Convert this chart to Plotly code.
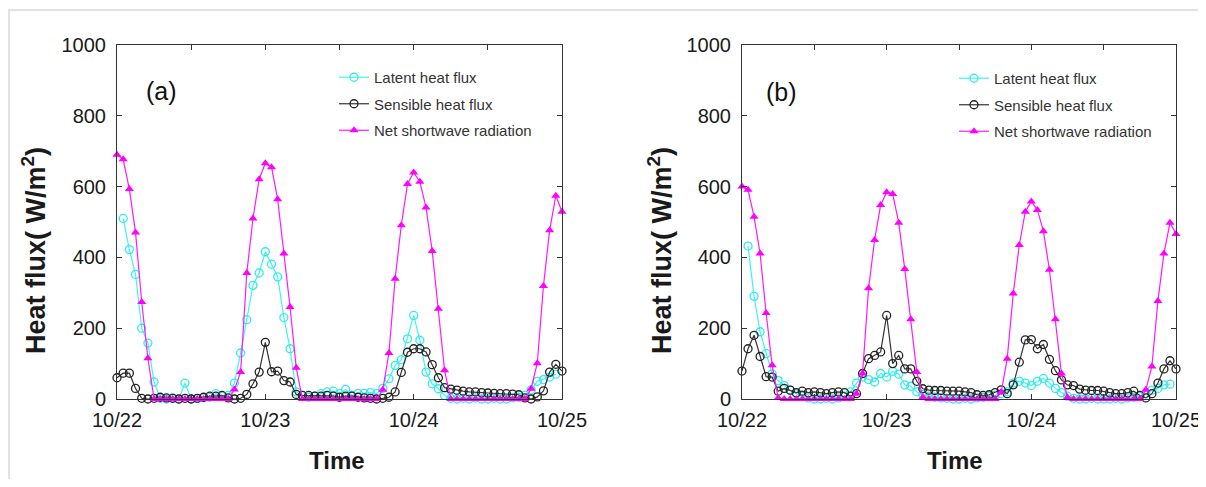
import pandas as pd
import plotly.graph_objects as go

OFF = 8  # page body margin of the html page
W, H = 1206 - OFF, 487 - 2 * OFF  # figure fits the window


def px(x):
    return (x - OFF) / W


def py(y):
    return 1 - (y - OFF) / H


# hourly time stamps 10/22 00:00 .. 10/25 00:00
TIMES = pd.date_range("2015-10-22 00:00", periods=73, freq="h")
TICK_TIMES = pd.date_range("2015-10-22 00:00", periods=7, freq="12h")
TICK_TEXT = ["10/22", "", "10/23", "", "10/24", "", "10/25"]
Y_TICKS = [0, 200, 400, 600, 800, 1000]

# ---------------- panel (a) ----------------
LATENT_A = [None, 510, 422, 352, 200, 158, 48,
            2, 0, 3, 0, 45, 0, 2, 3, 5, 15, 8, 10,
            45, 130, 224, 321, 356, 416, 381, 345, 230, 142, 20, 10,
            5, 8, 15, 20, 22, 15, 27, 10, 16, 16, 18, 15,
            30, 57, 95, 111, 170, 236, 166, 76, 43, 29, 10, 2,
            0, 2, 0, 3, 0, 0, 2, 0, 0, 3, 5, 10,
            26, 50, 55, 62, 70, None]
SENSIBLE_A = [60, 73, 73, 30, 2, 0, 2, 5, 3, 2, 0, 2, 0, 2, 5, 8, 8, 10, 3, 0, 2,
              13, 43, 76, 160, 77, 79, 52, 48, 13,
              10, 10, 8, 8, 10, 8, 5, 8, 8, 5, 3, 2, 0, 2,
              5, 20, 75, 132, 142, 142, 133, 97, 60, 32,
              28, 25, 22, 20, 20, 18, 17, 16, 15, 15, 14, 12, 3, 0,
              6, 23, 76, 98, 79]
SHORTWAVE_A = [690, 677, 593, 470, 274, 115, 0,
               0, 0, 0, 0, 0, 0, 0, 0, 0, 0, 0, 0,
               27, 76, 356, 510, 621, 666, 655, 564, 411, 260, 88, 0,
               0, 0, 0, 0, 0, 0, 0, 0, 0, 0, 0, 0,
               26, 130, 340, 491, 607, 640, 614, 541, 418, 255, 81, 0,
               0, 0, 0, 0, 0, 0, 0, 0, 0, 0, 0, 0,
               29, 101, 319, 477, 574, 529]

# ---------------- panel (b) ----------------
LATENT_B = [None, 432, 290, 190, 128, 71, 52, 38, 25, 15, 8, 3, 0, 0, 2, 0, 3, 8, 20,
            45, 62, 55, 48, 72, 62, 78, 70, 40, 36, 20, 12,
            8, 5, 3, 2, 0, 0, 2, 0, 3, 5, 8, 10, 15,
            20, 45, 50, 45, 38, 50, 58, 45, 30, 18, 8, 2,
            0, 0, 2, 0, 0, 0, 2, 0, 3, 5, 8,
            15, 25, 30, 40, 42, None]
SENSIBLE_B = [79, 142, 180, 120, 63, 62, 22, 30, 25, 18, 22, 18, 20, 18, 15, 18, 20, 18, 8,
              15, 72, 114, 123, 133, 236, 100, 123, 85, 85, 50, 29,
              25, 24, 24, 22, 22, 22, 20, 18, 12, 10, 12, 18, 26,
              15, 40, 104, 167, 168, 142, 154, 112, 80, 54, 40, 38,
              28, 25, 24, 24, 22, 18, 15, 15, 18, 22, 10, 3,
              15, 45, 85, 108, 85]
SHORTWAVE_B = [600, 591, 515, 411, 243, 95, 3,
               0, 0, 0, 0, 0, 0, 0, 0, 0, 0, 0, 0,
               15, 72, 313, 449, 548, 584, 579, 498, 367, 225, 76, 5,
               0, 0, 0, 0, 0, 0, 0, 0, 0, 0, 0, 0,
               19, 114, 298, 435, 529, 558, 534, 474, 365, 225, 72, 5,
               0, 0, 0, 0, 0, 0, 0, 0, 0, 0, 0, 0,
               26, 92, 277, 411, 498, 466]

SERIES_NAMES = ["Latent heat flux", "Sensible heat flux", "Net shortwave radiation"]
LINE_COLORS = ["#3ff3f3", "#333333", "#ff19ff"]

fig = go.Figure()


def add_panel(vals, xa, ya, leg):
    styles = [
        dict(symbol="circle-open", size=8, color="#33eaea", line=dict(width=1.3, color="#33eaea")),
        dict(symbol="circle-open", size=8, color="#222222", line=dict(width=1.3, color="#222222")),
        dict(symbol="triangle-up", size=8, color="#ff00ff"),
    ]
    for i, (name, v, lc, ms) in enumerate(zip(SERIES_NAMES, vals, LINE_COLORS, styles)):
        fig.add_trace(go.Scatter(
            x=TIMES, y=v, name=name, mode="lines+markers",
            line=dict(color=lc, width=1.2), marker=ms,
            xaxis=xa, yaxis=ya, legend=leg, legendgroup=f"{leg}{i}",
            cliponaxis=False, connectgaps=False,
        ))


add_panel([LATENT_A, SENSIBLE_A, SHORTWAVE_A], "x", "y", "legend")
add_panel([LATENT_B, SENSIBLE_B, SHORTWAVE_B], "x2", "y2", "legend2")

YDOM = [py(399), py(45)]
axis_common = dict(
    showline=True, linecolor="#333333", linewidth=1, mirror="allticks",
    ticks="inside", ticklen=5, tickcolor="#333333", showgrid=False, zeroline=False,
    automargin=False, ticklabeloverflow="allow",
    tickfont=dict(family="Liberation Sans, Arial, sans-serif", size=20, color="#1a1a1a"),
)
xcommon = dict(axis_common, type="date", range=[TIMES[0], TIMES[-1]],
               tickvals=list(TICK_TIMES), ticktext=TICK_TEXT, ticklabelstandoff=3)
ycommon = dict(axis_common, range=[0, 1000], tickvals=Y_TICKS, ticklabelstandoff=6)

legend_common = dict(
    font=dict(family="Liberation Sans, Arial, sans-serif", size=15, color="#333333"),
    bgcolor="rgba(0,0,0,0)", borderwidth=0, xanchor="left", yanchor="top",
    tracegroupgap=4, itemwidth=30,
)

fig.update_layout(
    width=W, height=H,
    margin=dict(l=0, r=0, t=0, b=0, autoexpand=False),
    paper_bgcolor="white", plot_bgcolor="white",
    xaxis=dict(xcommon, domain=[px(117), px(562)], anchor="y"),
    yaxis=dict(ycommon, domain=YDOM, anchor="x"),
    xaxis2=dict(xcommon, domain=[px(742), px(1176)], anchor="y2"),
    yaxis2=dict(ycommon, domain=YDOM, anchor="x2"),
    legend=dict(legend_common, x=px(334), y=py(61)),
    legend2=dict(legend_common, x=px(954), y=py(62)),
    showlegend=True,
)

title_font = dict(family="Liberation Sans, Arial, sans-serif", size=24, color="#1a1a1a")
ann = []
for cx in (34, 660):
    ann.append(dict(text="<b>Heat flux( W/m<sup>2</sup>)</b>", x=px(cx), y=py(251),
                    xref="paper", yref="paper", textangle=-90, showarrow=False,
                    font=dict(title_font, size=27), xanchor="center", yanchor="middle"))
for cx in (337, 955):
    ann.append(dict(text="<b>Time</b>", x=px(cx), y=py(460), xref="paper", yref="paper",
                    showarrow=False, font=title_font, xanchor="center", yanchor="middle"))
for lab, cx, cy in (("(a)", 161, 91), ("(b)", 781, 92)):
    ann.append(dict(text=lab, x=px(cx), y=py(cy), xref="paper", yref="paper",
                    showarrow=False, xanchor="center", yanchor="middle",
                    font=dict(family="Liberation Sans, Arial, sans-serif", size=25, color="#111111")))
fig.update_layout(annotations=ann)

fig.add_shape(type="rect", xref="paper", yref="paper",
              x0=px(8) + 1 / W, x1=px(1202), y0=-0.2, y1=py(10),
              line=dict(color="#e2e2e2", width=2), layer="below")

fig.write_html("out.html")
